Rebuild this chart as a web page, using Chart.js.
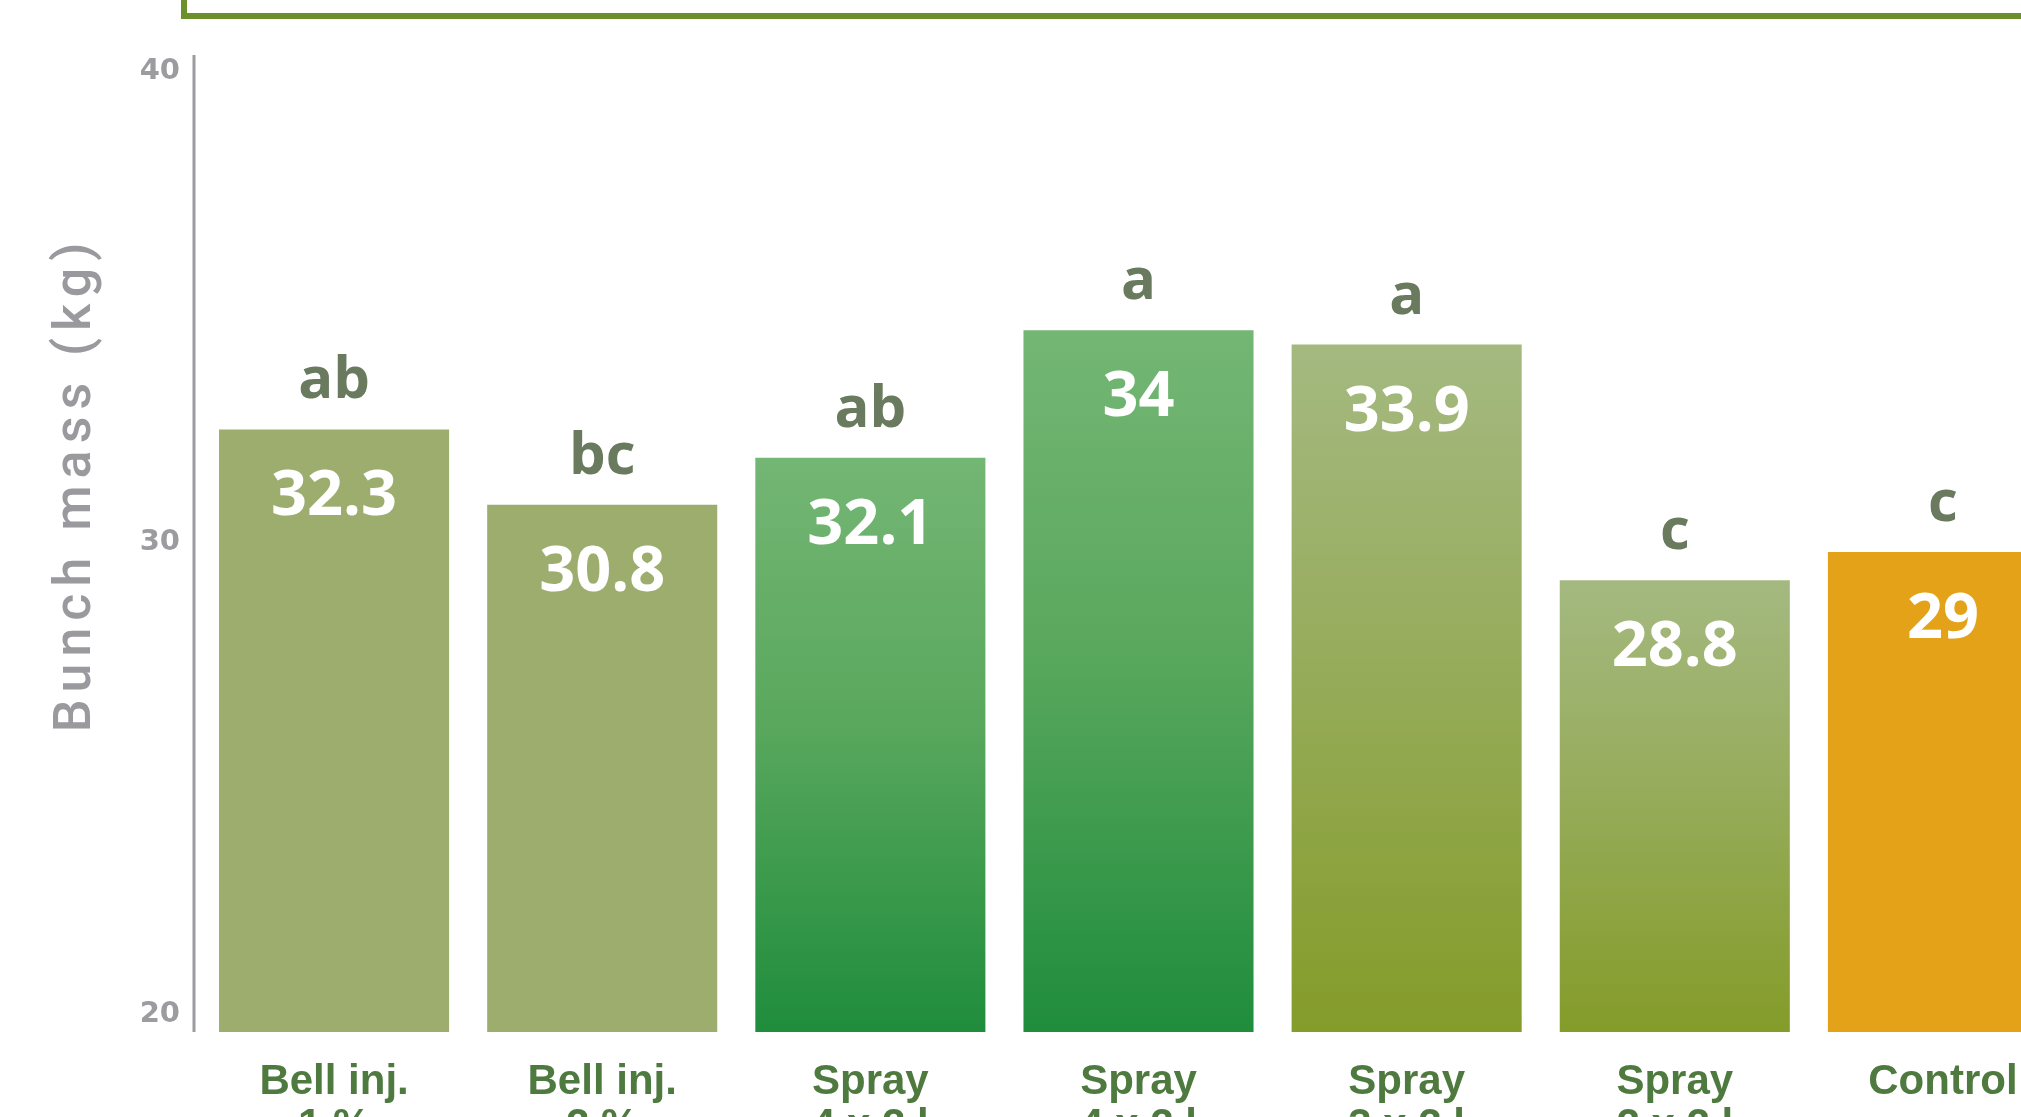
<!DOCTYPE html>
<html>
<head>
<meta charset="utf-8">
<script src="https://cdn.jsdelivr.net/npm/chart.js"></script>
<style>
  html, body { margin: 0; padding: 0; background: #fff; overflow: hidden; }
  #frame { position: absolute; left: 181px; top: -200px; width: 2000px; height: 219px; box-sizing: border-box; border: 6px solid #6b8f2b; }
  #wrap { position: absolute; left: 0; top: 0; width: 2090px; height: 1160px; }
</style>
</head>
<body>
<div id="frame"></div>
<div id="wrap"><canvas id="bunchCanvas"></canvas></div>
<script>
// categories (second line is cut off at the bottom of the picture)
let categories = [
    ["Bell inj.", "1 %"], ["Bell inj.", "2 %"],
    ["Spray", "4 x 2 l"], ["Spray", "4 x 2 l"],
    ["Spray", "3 x 2 l"], ["Spray", "2 x 2 l"],
    ["Control"]
];
// bar heights as drawn on the axis, and the numbers printed on them
let barHeights = [32.4, 30.8, 31.8, 34.5, 34.2, 29.2, 29.8];
let valueLabels = ["32.3", "30.8", "32.1", "34", "33.9", "28.8", "29"];
let letterLabels = ["ab", "bc", "ab", "a", "a", "c", "c"];
let yTicks = [20, 30, 40];
let barStyles = ["flat", "flat", "green", "green", "olive", "olive", "control"];

const fills = {
    flat: "#9cad6e",
    control: "#e3a217",
    green: ["#74b674", "#5aa85e", "#1f8d3c"],
    olive: ["#a4b980", "#97ac5c", "#849c29"]
};

function barColor(context) {
    let chart = context.chart;
    let area = chart.chartArea;
    let f = fills[barStyles[context.dataIndex]];
    if (typeof f === "string") return f;
    if (!area) return f[2];
    let top = chart.scales.y.getPixelForValue(context.raw);
    let g = chart.ctx.createLinearGradient(0, top, 0, area.bottom);
    g.addColorStop(0, f[0]);
    g.addColorStop(0.45, f[1]);
    g.addColorStop(1, f[2]);
    return g;
}

// axis line, axis title and the labels on / above the bars
const extrasPlugin = {
    id: "extras",
    afterDatasetsDraw(chart) {
        let c = chart.ctx;
        let area = chart.chartArea;
        c.save();
        c.strokeStyle = "#9c9ca0";
        c.lineWidth = 3;
        c.beginPath();
        c.moveTo(area.left - 6, area.top);
        c.lineTo(area.left - 6, area.bottom);
        c.stroke();

        c.save();
        c.translate(90, 487);
        c.rotate(-Math.PI / 2);
        c.fillStyle = "#9a9a9e";
        c.font = "500 52px Roboto";
        c.letterSpacing = "7px";
        c.textAlign = "center";
        c.textBaseline = "alphabetic";
        c.fillText("Bunch mass (kg)", 3, 0);
        c.restore();

        c.textAlign = "center";
        c.textBaseline = "alphabetic";
        let meta = chart.getDatasetMeta(0);
        meta.data.forEach(function(bar, i) {
            c.font = "bold 58px 'Open Sans'";
            c.fillStyle = "#6a7a5f";
            c.fillText(letterLabels[i], bar.x, bar.y - 31);
            c.font = "bold 63px 'Open Sans'";
            c.fillStyle = "#ffffff";
            c.fillText(valueLabels[i], bar.x, bar.y + 86);
        });
        c.restore();
    }
};

let ctx = document.getElementById("bunchCanvas").getContext("2d");
let bunchChart = new Chart(ctx, {
    type: "bar",
    data: {
        labels: categories,
        datasets: [{
            data: barHeights,
            backgroundColor: barColor,
            borderWidth: 0,
            barPercentage: 0.858,
            categoryPercentage: 1
        }]
    },
    options: {
        responsive: true,
        maintainAspectRatio: false,
        animation: false,
        layout: { padding: { top: 55, right: 13, left: 0, bottom: 0 } },
        plugins: { legend: { display: false }, tooltip: { enabled: false } },
        scales: {
            x: {
                grid: { display: false, drawTicks: false },
                border: { display: false },
                ticks: {
                    color: "#4f7a3f",
                    font: { family: "Liberation Sans", weight: "bold", size: 42, lineHeight: 1.05 },
                    padding: 28,
                    maxRotation: 0,
                    autoSkip: false
                },
                afterFit: function(s) { s.height = 128; }
            },
            y: {
                min: 19.62,
                max: 40.34,
                grid: { display: false, drawTicks: false },
                border: { display: false },
                afterBuildTicks: function(s) { s.ticks = yTicks.map(v => ({ value: v })); },
                afterFit: function(s) { s.width = 200; },
                ticks: {
                    color: "#9c9ca0",
                    font: { family: "DejaVu Sans", weight: "bold", size: 29 },
                    padding: 20
                }
            }
        }
    },
    plugins: [extrasPlugin]
});
</script>
</body>
</html>
